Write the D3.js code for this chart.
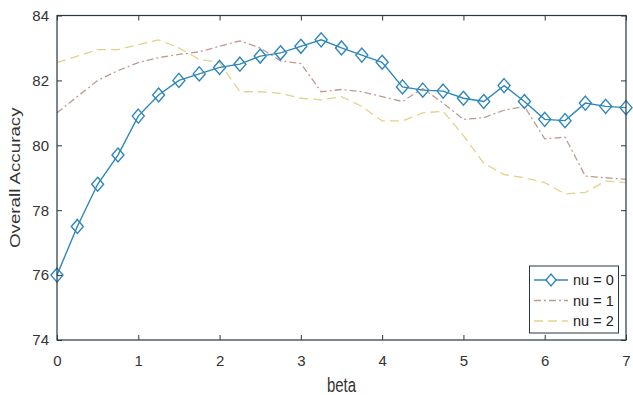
<!DOCTYPE html>
<html>
<head>
<meta charset="utf-8">
<script src="https://cdn.jsdelivr.net/npm/d3@7"></script>
<style>
  body { margin: 0; background: #fff; }
  svg { font-family: 'Liberation Sans', Arial, sans-serif; }
</style>
</head>
<body>
<svg id="container" width="633" height="395"></svg>
<script>
// beta values, step 0.25
const betas = d3.range(0, 7.001, 0.25)

const nu0 = [76.0, 77.5, 78.8, 79.7, 80.9, 81.55, 82.0, 82.2, 82.4, 82.5, 82.75, 82.85, 83.05, 83.25,
  83.0, 82.78, 82.56, 81.8, 81.7, 81.67, 81.45, 81.35, 81.84, 81.35, 80.8, 80.76, 81.3, 81.2, 81.16]
const nu1 = [81.0, 81.5, 82.0, 82.3, 82.55, 82.7, 82.8, 82.88, 83.05, 83.22, 83.0, 82.6, 82.52, 81.65,
  81.72, 81.65, 81.5, 81.35, 81.75, 81.3, 80.8, 80.85, 81.08, 81.2, 80.2, 80.25, 79.05, 79.0, 78.95]
const nu2 = [82.55, 82.75, 82.95, 82.95, 83.1, 83.25, 83.0, 82.65, 82.55, 81.65, 81.65, 81.6, 81.45, 81.4,
  81.5, 81.2, 80.75, 80.75, 81.0, 81.05, 80.3, 79.45, 79.1, 79.0, 78.85, 78.5, 78.55, 78.9, 78.85]

const xTicks = [0, 1, 2, 3, 4, 5, 6, 7]
const yTicks = [74, 76, 78, 80, 82, 84]
const seriesNames = ['nu = 0', 'nu = 1', 'nu = 2']

const svg = d3.select('#container')
const plotL = 57, plotR = 626, plotT = 15.5, plotB = 340
const axisColor = '#263840'

const x = d3.scaleLinear().domain([0, 7]).range([plotL, plotR])
const y = d3.scaleLinear().domain([74, 84]).range([plotB, plotT])

const series = [
  { name: seriesNames[0], values: nu0, color: '#2f87b8', dash: null, width: 1.4, marker: true },
  { name: seriesNames[1], values: nu1, color: '#c09a92', dash: '7,3,2,3', width: 1.3, marker: false },
  { name: seriesNames[2], values: nu2, color: '#e3d28a', dash: '9,5', width: 1.3, marker: false },
]

const line = d3.line().x((d) => x(d[0])).y((d) => y(d[1]))

// draw in reverse so nu = 0 sits on top
series.slice().reverse().forEach((s) => {
  const pts = betas.map((b, i) => [b, s.values[i]])
  svg.append('path')
    .attr('d', line(pts))
    .attr('fill', 'none')
    .attr('stroke', s.color)
    .attr('stroke-width', s.width)
    .attr('stroke-dasharray', s.dash)
  if (s.marker) {
    svg.selectAll('.mk')
      .data(pts)
      .enter()
      .append('path')
      .attr('class', 'mk')
      .attr('d', 'M0,-7L6,0L0,7L-6,0Z')
      .attr('transform', (d) => `translate(${x(d[0])},${y(d[1])})`)
      .attr('fill', 'none')
      .attr('stroke', s.color)
      .attr('stroke-width', 1.4)
  }
})

// box
svg.append('rect')
  .attr('x', plotL).attr('y', plotT)
  .attr('width', plotR - plotL).attr('height', plotB - plotT)
  .attr('fill', 'none').attr('stroke', axisColor).attr('stroke-width', 1.2)

// axes with inner ticks
const xAxis = svg.append('g')
  .attr('transform', `translate(0,${plotB})`)
  .call(d3.axisBottom(x).tickValues(xTicks).tickFormat(d3.format('d'))
    .tickSizeInner(-5).tickSizeOuter(0).tickPadding(15))
const xAxisTop = svg.append('g')
  .attr('transform', `translate(0,${plotT})`)
  .call(d3.axisTop(x).tickValues(xTicks).tickSizeInner(-5).tickSizeOuter(0).tickFormat(''))
const yAxis = svg.append('g')
  .attr('transform', `translate(${plotL},0)`)
  .call(d3.axisLeft(y).tickValues(yTicks).tickSizeInner(-5).tickSizeOuter(0).tickPadding(8))
const yAxisRight = svg.append('g')
  .attr('transform', `translate(${plotR},0)`)
  .call(d3.axisRight(y).tickValues(yTicks).tickSizeInner(-5).tickSizeOuter(0).tickFormat(''))

;[xAxis, xAxisTop, yAxis, yAxisRight].forEach((g) => {
  g.select('.domain').remove()
  g.selectAll('line').attr('stroke', axisColor)
  g.selectAll('text')
    .attr('fill', '#333')
    .style('font-size', '15px')
    .style('font-family', "'Liberation Sans', Arial, sans-serif")
})

// labels (reference text is a bit stretched vertically)
svg.append('text')
  .attr('transform', `translate(${(plotL + plotR) / 2},392) scale(1,1.3)`)
  .attr('text-anchor', 'middle')
  .attr('fill', '#333')
  .style('font-size', '15px')
  .text('beta')

svg.append('text')
  .attr('transform', `translate(20,${(plotT + plotB) / 2}) rotate(-90) scale(1.25,1)`)
  .attr('text-anchor', 'middle')
  .attr('fill', '#333')
  .style('font-size', '15px')
  .text('Overall Accuracy')

// legend
const legend = svg.append('g')
legend.append('rect')
  .attr('x', 529.5).attr('y', 266)
  .attr('width', 89).attr('height', 67)
  .attr('fill', '#fff').attr('stroke', axisColor).attr('stroke-width', 1)

series.forEach((s, i) => {
  const ly = 280 + i * 20.5
  legend.append('line')
    .attr('x1', 534).attr('x2', 568).attr('y1', ly).attr('y2', ly)
    .attr('stroke', s.color).attr('stroke-width', s.width)
    .attr('stroke-dasharray', s.dash)
  if (s.marker) {
    legend.append('path')
      .attr('d', 'M0,-6L5,0L0,6L-5,0Z')
      .attr('transform', `translate(551,${ly})`)
      .attr('fill', '#fff').attr('stroke', s.color).attr('stroke-width', 1.4)
  }
  legend.append('text')
    .attr('x', 573).attr('y', ly + 5)
    .attr('fill', '#222')
    .style('font-size', '14.5px')
    .text(s.name)
})
</script>
</body>
</html>
